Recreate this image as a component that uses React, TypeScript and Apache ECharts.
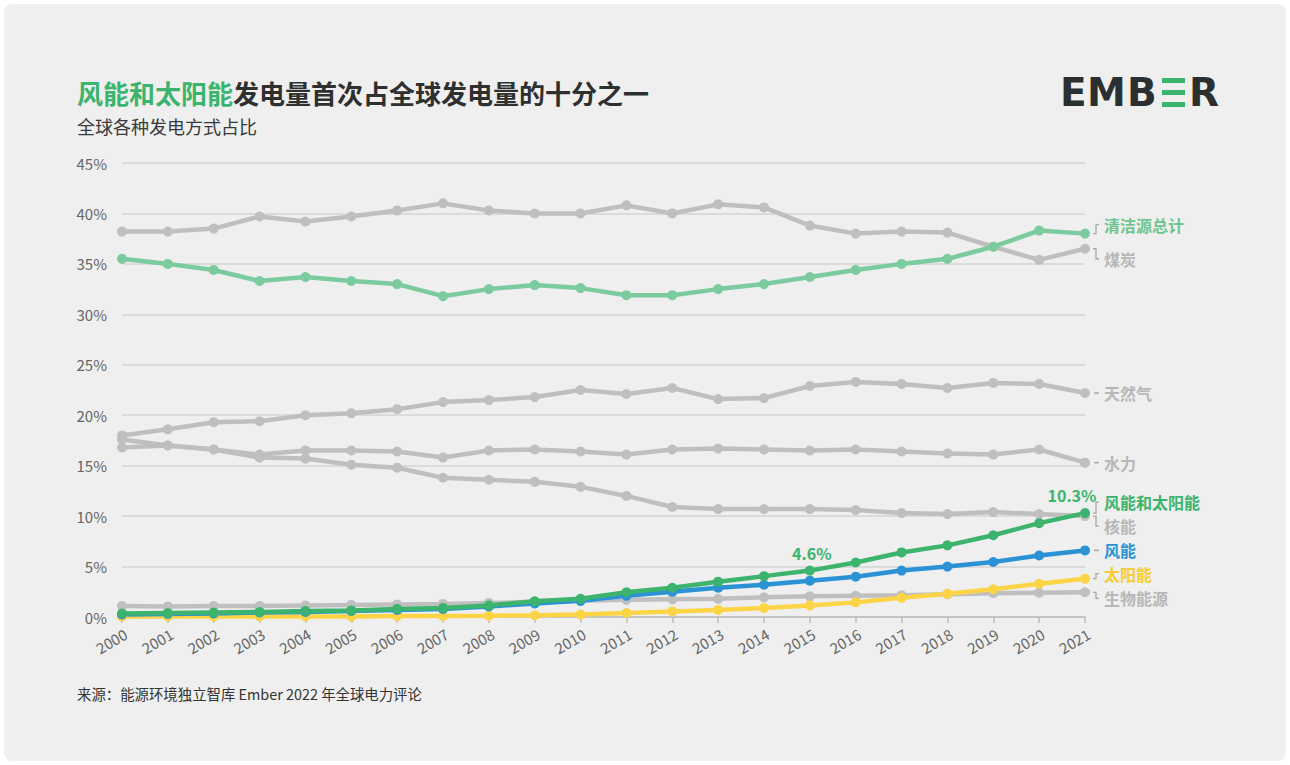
import React, { useEffect, useRef } from "react";
import * as echarts from "echarts";

const years = ["2000","2001","2002","2003","2004","2005","2006","2007","2008","2009","2010","2011","2012","2013","2014","2015","2016","2017","2018","2019","2020","2021"];

const coal = [38.2, 38.2, 38.5, 39.7, 39.2, 39.7, 40.3, 41.0, 40.3, 40.0, 40.0, 40.8, 40.0, 40.9, 40.6, 38.8, 38.0, 38.2, 38.1, 36.7, 35.4, 36.5];
const cleanTotal = [35.5, 35.0, 34.4, 33.3, 33.7, 33.3, 33.0, 31.8, 32.5, 32.9, 32.6, 31.9, 31.9, 32.5, 33.0, 33.7, 34.4, 35.0, 35.5, 36.7, 38.3, 38.0];
const gas = [18.0, 18.6, 19.3, 19.4, 20.0, 20.2, 20.6, 21.3, 21.5, 21.8, 22.5, 22.1, 22.7, 21.6, 21.7, 22.9, 23.3, 23.1, 22.7, 23.2, 23.1, 22.2];
const hydro = [16.8, 17.0, 16.6, 16.1, 16.5, 16.5, 16.4, 15.8, 16.5, 16.6, 16.4, 16.1, 16.6, 16.7, 16.6, 16.5, 16.6, 16.4, 16.2, 16.1, 16.6, 15.3];
const nuclear = [17.6, 17.0, 16.6, 15.8, 15.7, 15.1, 14.8, 13.8, 13.6, 13.4, 12.9, 12.0, 10.9, 10.7, 10.7, 10.7, 10.6, 10.3, 10.2, 10.4, 10.2, 10.0];
const bioenergy = [1.1, 1.05, 1.1, 1.1, 1.15, 1.2, 1.25, 1.3, 1.4, 1.5, 1.6, 1.7, 1.75, 1.8, 1.95, 2.05, 2.1, 2.15, 2.25, 2.35, 2.4, 2.45];
const windSolar = [0.35, 0.4, 0.45, 0.5, 0.6, 0.65, 0.8, 0.9, 1.15, 1.55, 1.8, 2.45, 2.9, 3.5, 4.05, 4.6, 5.4, 6.4, 7.1, 8.1, 9.3, 10.3];
const wind = [0.25, 0.3, 0.35, 0.45, 0.5, 0.6, 0.7, 0.8, 1.05, 1.35, 1.6, 2.1, 2.5, 2.9, 3.2, 3.6, 4.0, 4.6, 5.0, 5.45, 6.1, 6.6];
const solar = [0.05, 0.05, 0.05, 0.05, 0.05, 0.05, 0.1, 0.1, 0.12, 0.17, 0.25, 0.4, 0.55, 0.7, 0.9, 1.15, 1.45, 1.9, 2.3, 2.75, 3.3, 3.8];

const highlightIdx = [15, 21];

const FONT = "'Noto Sans CJK SC', 'Noto Sans', sans-serif";
const GRAY = "#bfbfbf";
const LGRAY = "#b7b7b7";
const CLEAN = "#7ccb9f";
const GREEN = "#3cb46d";
const BLUE = "#2b93d5";
const YELLOW = "#fdd445";

type Def = { name: string; data: number[]; color: string; labelColor: string; dy: number };

const defs: Def[] = [
  { name: "煤炭", data: coal, color: GRAY, labelColor: LGRAY, dy: 10 },
  { name: "天然气", data: gas, color: GRAY, labelColor: LGRAY, dy: 0 },
  { name: "水力", data: hydro, color: GRAY, labelColor: LGRAY, dy: 0 },
  { name: "核能", data: nuclear, color: GRAY, labelColor: LGRAY, dy: 10 },
  { name: "生物能源", data: bioenergy, color: GRAY, labelColor: LGRAY, dy: 6 },
  { name: "清洁源总计", data: cleanTotal, color: CLEAN, labelColor: "#6fc592", dy: -9 },
  { name: "太阳能", data: solar, color: YELLOW, labelColor: "#f8cc33", dy: -5 },
  { name: "风能", data: wind, color: BLUE, labelColor: BLUE, dy: 0 },
  { name: "风能和太阳能", data: windSolar, color: GREEN, labelColor: GREEN, dy: -11 },
];

export default function App() {
  const ref = useRef<HTMLDivElement>(null);
  useEffect(() => {
    if (!ref.current) return;
    const chart = echarts.init(ref.current, null, { renderer: "svg" });
    const series = defs.map((d) => ({
      name: d.name,
      type: "line",
      data: d.data.map((v, i) => {
        if (d.data === windSolar && highlightIdx.includes(i)) {
          return {
            value: v,
            label: {
              show: true,
              position: "top",
              distance: 5,
              formatter: v.toFixed(1) + "%",
              color: GREEN,
              fontSize: 16,
              fontWeight: "bold",
              fontFamily: FONT,
              offset: i === 21 ? [-13, 0] : [2, 0],
            },
          };
        }
        return v;
      }),
      symbol: "circle",
      symbolSize: 10,
      lineStyle: { width: 4.5, color: d.color },
      itemStyle: { color: d.color },
      emphasis: { disabled: true },
      silent: true,
    }));
    chart.setOption({
      animation: false,
      backgroundColor: "transparent",
      title: [
        {
          text: "{g|风能和太阳能}{d|发电量首次占全球发电量的十分之一}",
          left: 72,
          top: 74,
          textStyle: {
            fontSize: 26,
            rich: {
              g: { color: "#3cb46d", fontSize: 26, fontWeight: "bold", fontFamily: FONT },
              d: { color: "#2e3030", fontSize: 26, fontWeight: "bold", fontFamily: FONT },
            },
          },
        },
        {
          text: "全球各种发电方式占比",
          left: 72,
          top: 112,
          textStyle: { color: "#3a3a3a", fontSize: 18, fontWeight: "normal", fontFamily: FONT },
        },
        {
          text: "来源：能源环境独立智库 Ember 2022 年全球电力评论",
          left: 72,
          top: 681,
          textStyle: { color: "#333", fontSize: 14.4, fontWeight: "normal", fontFamily: FONT },
        },
      ],
      grid: { left: 122, right: 205, top: 163, bottom: 148, containLabel: false },
      xAxis: {
        type: "category",
        data: years,
        boundaryGap: false,
        axisLine: { lineStyle: { color: "#bdbdbd", width: 1.5 } },
        axisTick: { show: true, length: 6, lineStyle: { color: "#bdbdbd", width: 1.5 } },
        axisLabel: { rotate: 30, margin: 9, verticalAlign: "top", color: "#666", fontSize: 15, fontFamily: FONT },
        splitLine: { show: false },
      },
      yAxis: {
        type: "value",
        min: 0,
        max: 45,
        interval: 5,
        axisLine: { show: false },
        axisTick: { show: false },
        axisLabel: { formatter: "{value}%", color: "#666", fontSize: 15, margin: 15, fontFamily: FONT },
        splitLine: { lineStyle: { color: "#d4d4d4", width: 1.5 } },
      },
      series,
    });

    const last = years.length - 1;
    const graphics: any[] = [];
    defs.forEach((d) => {
      const p = chart.convertToPixel({ xAxisIndex: 0, yAxisIndex: 0 }, [years[last], d.data[last]]) as number[];
      const ex = p[0];
      const py = p[1];
      const ly = py + d.dy;
      if (d.dy === 0) {
        graphics.push({
          type: "line",
          shape: { x1: ex + 9, y1: py, x2: ex + 14, y2: py },
          style: { stroke: "#a8a8a8", lineWidth: 1.5 },
        });
      } else {
        graphics.push({
          type: "polyline",
          shape: { points: [[ex + 8, py], [ex + 11, py], [ex + 11, ly], [ex + 14, ly]] },
          style: { stroke: "#a8a8a8", lineWidth: 1.3, fill: "none" },
        });
      }
      graphics.push({
        type: "text",
        x: ex + 19,
        y: ly,
        style: {
          text: d.name,
          fill: d.labelColor,
          font: `bold 16px ${FONT}`,
          align: "left",
          verticalAlign: "middle",
        },
      });
    });

    // EMBER logo
    const logoFont = "bold 39px 'DejaVu Sans', sans-serif";
    const letters: [string, number][] = [["E", 1060], ["M", 1087], ["B", 1127], ["R", 1189]];
    letters.forEach(([t, x]) => {
      graphics.push({
        type: "text",
        x,
        y: 92.5,
        style: { text: t, fill: "#2b2f2f", font: logoFont, align: "left", verticalAlign: "middle" },
      });
    });
    [78, 90, 102].forEach((y) => {
      graphics.push({
        type: "rect",
        shape: { x: 1162, y, width: 23, height: 5 },
        style: { fill: "#3cb46d" },
      });
    });

    chart.setOption({ graphic: graphics });
    return () => chart.dispose();
  }, []);

  return (
    <div style={{ position: "fixed", left: 0, top: 0, width: 1290, height: 765, background: "#ffffff" }}>
      <div
        style={{
          position: "absolute",
          left: 4,
          top: 4,
          width: 1282,
          height: 757,
          background: "#eeefee",
          borderRadius: 8,
        }}
      />
      <div ref={ref} style={{ position: "absolute", left: 0, top: 0, width: 1290, height: 765 }} />
    </div>
  );
}
